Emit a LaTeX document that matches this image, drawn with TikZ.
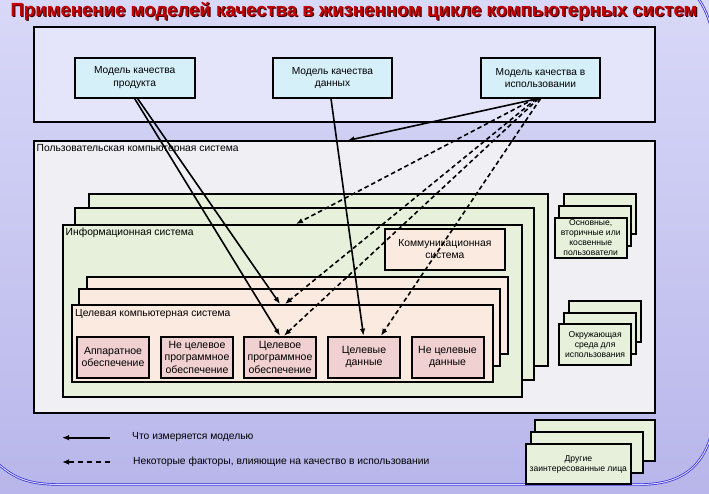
\documentclass[tikz,border=0pt]{standalone}
\usepackage{fontspec}
\setmainfont{Liberation Sans}
\usetikzlibrary{arrows.meta,positioning}
\definecolor{bgtop}{RGB}{216,216,248}
\definecolor{bgbot}{RGB}{184,182,234}
\definecolor{topfill}{RGB}{228,228,250}
\definecolor{modelfill}{RGB}{214,240,250}
\definecolor{userfill}{RGB}{240,239,244}
\definecolor{greenfill}{RGB}{230,240,218}
\definecolor{peachfill}{RGB}{251,234,224}
\definecolor{partfill}{RGB}{240,208,208}
\definecolor{titlered}{RGB}{196,0,0}
\definecolor{frameblue}{RGB}{48,40,220}

\begin{document}
\begin{tikzpicture}[x=1pt,y=-1pt,>={Latex[length=7pt,width=5.5pt]},
    box/.style={draw,line width=2pt,anchor=north west,inner sep=0pt},
    model/.style={box,fill=modelfill,align=center,minimum width=120pt,minimum height=40pt,
      font=\fontsize{10.2}{12.3}\selectfont},
    part/.style={box,fill=partfill,align=center,minimum width=72pt,minimum height=41pt,
      font=\fontsize{10.5}{12.3}\selectfont},
    side/.style={box,fill=greenfill,align=center,font=\fontsize{8.6}{10}\selectfont},
    lbl/.style={anchor=west,inner sep=0pt,font=\fontsize{10.3}{12}\selectfont},
    meas/.style={->,line width=1.6pt},
    infl/.style={->,line width=1.6pt,dash pattern=on 4.5pt off 3pt}]
    \useasboundingbox (0,0) rectangle (709,494);
    \fill[top color=bgtop,bottom color=bgbot] (0,0) rectangle (709,494);
    % slide frame
    \draw[frameblue,line width=0.7pt,double=bgtop,double distance=1pt]
      (-3,463) .. controls (14,478) and (28,484.5) .. (60,484.5) -- (640,484.5)
      .. controls (680,484.5) and (703,468) .. (712,432);
    \draw[frameblue,line width=0.7pt,double=bgtop,double distance=1pt]
      (697,-3) .. controls (704,6) and (708,16) .. (712,30);
    % title
    \node[text=black!75!red,font=\fontsize{19}{22}\bfseries\selectfont] at (355.2,12.2)
      {\scalebox{0.98}[1]{Применение моделей качества в жизненном цикле компьютерных систем}};
    \node[text=titlered,font=\fontsize{19}{22}\bfseries\selectfont] (title) at (354,11)
      {\scalebox{0.98}[1]{Применение моделей качества в жизненном цикле компьютерных систем}};

    % quality models
    \node[box,fill=topfill,minimum width=620.7pt,minimum height=95.3pt] (models) at (33.3,25.7) {};
    \node[model] (prod) at (73.7,56.7) {Модель качества\\продукта};
    \node[model,minimum width=119pt] (dat) at (272,56.7) {Модель качества\\данных};
    \node[model,minimum width=119pt] (use) at (480,56.7) {Модель качества в\\использовании};

    % user computer system
    \node[box,fill=userfill,minimum width=621pt,minimum height=271.5pt] (usr) at (33,140.5) {};
    \node[lbl] at (36.5,149) {Пользовательская компьютерная система};
    \foreach \x/\y/\n in {88/192.7/infoc,73.5/207/infob}
      \node[box,fill=greenfill,minimum width=459pt,minimum height=172pt] (\n) at (\x,\y) {};
    \node[box,fill=greenfill,minimum width=459pt,minimum height=172pt] (info) at (61.7,224) {};
    \node[lbl] at (65.5,232.7) {Информационная система};
    \node[box,fill=peachfill,align=center,minimum width=119.7pt,minimum height=41pt,
      font=\fontsize{10.3}{12}\selectfont] (comm) at (384,228) {Коммуникационная\\система};
    \foreach \x/\y/\n in {85.7/276/tgtc,78.3/288/tgtb}
      \node[box,fill=peachfill,minimum width=421pt,minimum height=76.7pt] (\n) at (\x,\y) {};
    \node[box,fill=peachfill,minimum width=421pt,minimum height=76.7pt] (tgt) at (71,304) {};
    \node[lbl] at (75,313.7) {Целевая компьютерная система};
    \node[part] (hw) at (76,335.7) {Аппаратное\\обеспечение};
    \node[part] (nsw) at (160,335.7) {Не целевое\\программное\\обеспечение};
    \node[part] (tsw) at (243,335.7) {Целевое\\программное\\обеспечение};
    \node[part] (tdat) at (327,335.7) {Целевые\\данные};
    \node[part] (ndat) at (410.5,335.7) {Не целевые\\данные};

    % stacks on the right
    \foreach \x/\y in {563/192.7,558.3/205}
      \node[side,minimum width=72pt,minimum height=40.5pt] at (\x,\y) {};
    \node[side,minimum width=72pt,minimum height=40.5pt] (users) at (553.7,216.7)
      {Основные,\\вторичные или\\косвенные\\пользователи};
    \foreach \x/\y in {567.7/300,563/312}
      \node[side,minimum width=72.3pt,minimum height=41pt] at (\x,\y) {};
    \node[side,minimum width=72.3pt,minimum height=41pt] (env) at (558,323)
      {Окружающая\\среда для\\использования};
    \node[side,minimum width=120pt,minimum height=41pt] at (534,419) {};
    \node[side,minimum width=112pt,minimum height=41pt] at (530,431) {};
    \node[side,minimum width=105.3pt,minimum height=40pt] (stake) at (524.7,443)
      {Другие\\заинтересованные лица};

    % what is measured
    \draw[meas] (prod.south) -- (tsw.north);
    \draw[meas] ([xshift=3pt]prod.south) -- (tsw.north |- tgt.north);
    \draw[meas] ([xshift=-1.5pt]dat.south) -- ([xshift=-0.5pt]tdat.north);
    \draw[meas] ([xshift=-3pt]use.south) -- ([xshift=15pt]dat.south |- usr.north);
    % influencing factors
    \draw[infl] ([xshift=-6pt]use.south) -- ([xshift=16pt]tsw.north |- info.north);
    \draw[infl] ([xshift=-4pt]use.south) -- ([xshift=5pt]tsw.north |- tgt.north);
    \draw[infl] ([xshift=-2pt]use.south) -- ([xshift=4pt]tsw.north);
    \draw[infl] ([xshift=0pt]use.south) -- ([xshift=17pt]tdat.north);

    % legend
    \coordinate (m1) at (110,437.7);
    \coordinate (m2) at (62,437.7);
    \coordinate (f1) at (110,462);
    \coordinate (f2) at (62,462);
    \draw[meas] (m1) -- (m2);
    \draw[infl,dash pattern=on 5pt off 4pt] (f1) -- (f2);
    \node[lbl] (mtxt) at (132,437.5) {Что измеряется моделью};
    \node[lbl] (ftxt) at (133,462) {Некоторые факторы, влияющие на качество в использовании};
\end{tikzpicture}
\end{document}
